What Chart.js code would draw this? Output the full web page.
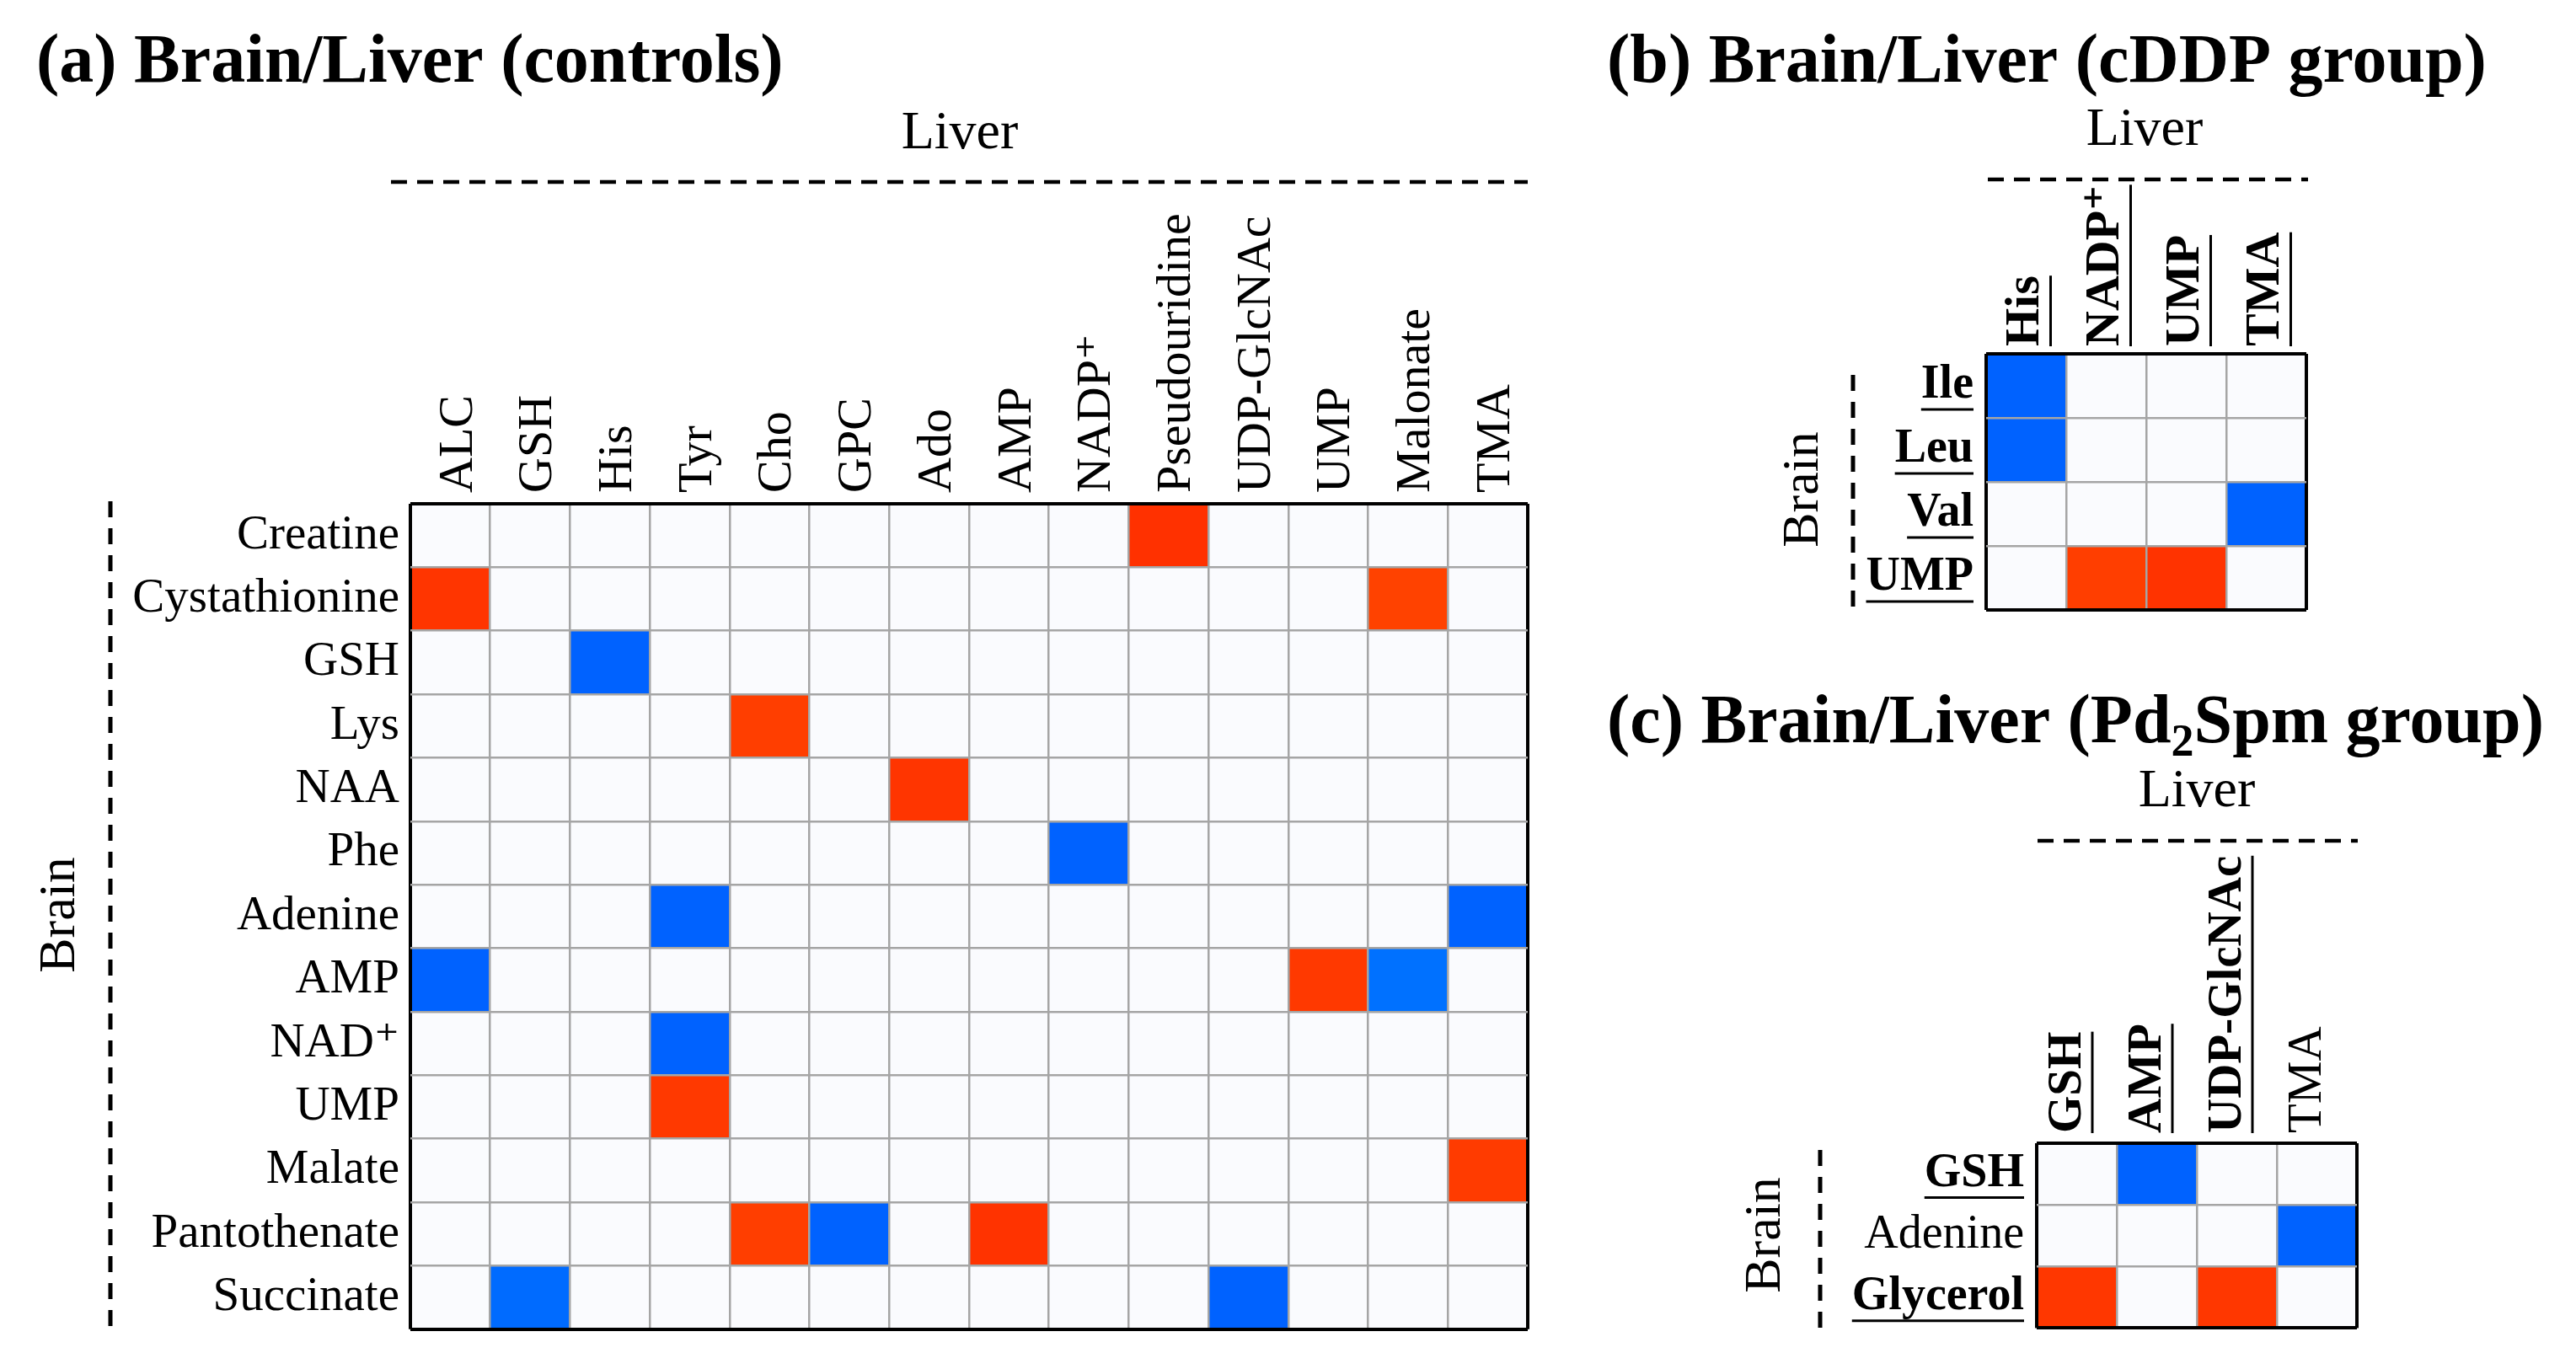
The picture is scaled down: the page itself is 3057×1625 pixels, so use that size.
<!DOCTYPE html>
<html>
<head>
<meta charset="utf-8">
<script src="https://cdn.jsdelivr.net/npm/chart.js@4.4.1/dist/chart.umd.min.js"></script>
<style>
  html, body { margin: 0; padding: 0; background: #fff; }
  #wrap { position: relative; width: 3057px; height: 1625px; overflow: hidden; }
  canvas { position: absolute; left: 0; top: 0; }
</style>
</head>
<body>
<div id="wrap">
  <canvas id="chartA" width="3057" height="1625"></canvas>
  <canvas id="chartB" width="3057" height="1625"></canvas>
  <canvas id="chartC" width="3057" height="1625"></canvas>
</div>
<script>
// (a) controls
const aRows = ['Creatine', 'Cystathionine', 'GSH', 'Lys', 'NAA', 'Phe', 'Adenine', 'AMP', 'NAD\u207A', 'UMP', 'Malate', 'Pantothenate', 'Succinate'];
const aCols = ['ALC', 'GSH', 'His', 'Tyr', 'Cho', 'GPC', 'Ado', 'AMP', 'NADP\u207A', 'Pseudouridine', 'UDP-GlcNAc', 'UMP', 'Malonate', 'TMA'];
const aValues = [
  // ALC  GSH   His   Tyr   Cho   GPC   Ado   AMP  NADP+  Pseu  UDP   UMP   Malo  TMA
  [0,     0,    0,    0,    0,    0,    0,    0,    0,    0.96, 0,    0,    0,    0],     // Creatine
  [0.94,  0,    0,    0,    0,    0,    0,    0,    0,    0,    0,    0,    0.88, 0],     // Cystathionine
  [0,     0,   -0.95, 0,    0,    0,    0,    0,    0,    0,    0,    0,    0,    0],     // GSH
  [0,     0,    0,    0,    0.9,  0,    0,    0,    0,    0,    0,    0,    0,    0],     // Lys
  [0,     0,    0,    0,    0,    0,    0.94, 0,    0,    0,    0,    0,    0,    0],     // NAA
  [0,     0,    0,    0,    0,    0,    0,    0,   -0.95, 0,    0,    0,    0,    0],     // Phe
  [0,     0,    0,   -0.95, 0,    0,    0,    0,    0,    0,    0,    0,    0,   -0.95],  // Adenine
  [-0.95, 0,    0,    0,    0,    0,    0,    0,    0,    0,    0,    0.92,-0.86, 0],     // AMP
  [0,     0,    0,   -0.95, 0,    0,    0,    0,    0,    0,    0,    0,    0,    0],     // NAD+
  [0,     0,    0,    0.92, 0,    0,    0,    0,    0,    0,    0,    0,    0,    0],     // UMP
  [0,     0,    0,    0,    0,    0,    0,    0,    0,    0,    0,    0,    0,    0.91],  // Malate
  [0,     0,    0,    0,    0.9, -0.95, 0,    0.95, 0,    0,    0,    0,    0,    0],     // Pantothenate
  [0,    -0.9,  0,    0,    0,    0,    0,    0,    0,    0,   -0.95, 0,    0,    0]      // Succinate
];

// (b) cDDP group
const bRows = ['Ile', 'Leu', 'Val', 'UMP'];
const bCols = ['His', 'NADP\u207A', 'UMP', 'TMA'];
const bValues = [
  [-0.95, 0,    0,    0],
  [-0.95, 0,    0,    0],
  [0,     0,    0,   -0.95],
  [0,     0.9,  0.95, 0]
];
const bBoldRows = ['Ile', 'Leu', 'Val', 'UMP'];
const bBoldCols = ['His', 'NADP\u207A', 'UMP', 'TMA'];

// (c) Pd2Spm group
const cRows = ['GSH', 'Adenine', 'Glycerol'];
const cCols = ['GSH', 'AMP', 'UDP-GlcNAc', 'TMA'];
const cValues = [
  [0,    -0.95, 0,    0],
  [0,     0,    0,   -0.95],
  [0.93,  0,    0.93, 0]
];
const cBoldRows = ['GSH', 'Glycerol'];
const cBoldCols = ['GSH', 'AMP', 'UDP-GlcNAc'];

const FONT = '"Liberation Serif", "DejaVu Serif", serif';
const GRID = 'rgb(165,165,165)';

function cellColor(v) {
  if (v === 0) return 'rgb(250,251,254)';
  if (v > 0) return 'rgb(255,' + Math.round(255 - 215 * v) + ',0)';
  return 'rgb(0,' + Math.round(255 - 165 * -v) + ',255)';
}

function drawDashed(ctx, x0, y0, x1, y1, width, dash) {
  ctx.save();
  ctx.strokeStyle = '#000';
  ctx.lineWidth = width;
  ctx.setLineDash(dash);
  ctx.beginPath();
  ctx.moveTo(x0, y0);
  ctx.lineTo(x1, y1);
  ctx.stroke();
  ctx.restore();
}

// titles, group labels, dashed brackets and underlines
function makeDecor(d) {
  return {
    id: 'decor',
    afterDraw(chart) {
      const ctx = chart.ctx;
      ctx.save();
      ctx.fillStyle = '#000';
      ctx.textAlign = 'left';
      ctx.textBaseline = 'alphabetic';
      let x = d.titleX;
      d.title.forEach(p => {
        ctx.font = p.sub ? 'bold 54px ' + FONT : 'bold 82px ' + FONT;
        ctx.fillText(p.text, x, d.titleY + (p.sub ? 16 : 0));
        x += ctx.measureText(p.text).width;
      });

      ctx.font = '64px ' + FONT;
      ctx.textAlign = 'center';
      ctx.fillText('Liver', d.liver[0], d.liver[1]);

      ctx.save();
      ctx.translate(d.brain[0], d.brain[1]);
      ctx.rotate(-Math.PI / 2);
      ctx.font = '62px ' + FONT;
      ctx.textBaseline = 'middle';
      ctx.fillText('Brain', 0, 0);
      ctx.restore();
      ctx.restore();

      drawDashed(ctx, d.hLine[0], d.hLine[2], d.hLine[1], d.hLine[2], 4.5, [19, 12]);
      drawDashed(ctx, d.vLine[0], d.vLine[1], d.vLine[0], d.vLine[2], 5, [19, 13]);

      // underline the marked tick labels
      [['x', d.ulCols || []], ['y', d.ulRows || []]].forEach(([id, marks]) => {
        if (!marks.length) return;
        const scale = chart.scales[id];
        scale.getLabelItems().forEach(item => {
          if (!marks.includes(item.label)) return;
          const o = item.options;
          ctx.save();
          ctx.translate(o.translation[0], o.translation[1]);
          ctx.rotate(o.rotation);
          ctx.font = item.font.string;
          const w = ctx.measureText(item.label).width;
          const x0 = o.textAlign === 'right' ? -w : (o.textAlign === 'center' ? -w / 2 : 0);
          const yy = item.textOffset + item.font.size * 0.5;
          ctx.strokeStyle = '#000';
          ctx.lineWidth = 3;
          ctx.beginPath();
          ctx.moveTo(x0, yy);
          ctx.lineTo(x0 + w, yy);
          ctx.stroke();
          ctx.restore();
        });
      });
    }
  };
}

function heatmap(id, rows, cols, values, opt) {
  const datasets = rows.map((r, i) => ({
    label: r,
    data: cols.map(() => [i, i + 1]),
    backgroundColor: values[i].map(cellColor),
    borderWidth: 0,
    barPercentage: 1,
    categoryPercentage: 1,
    grouped: false
  }));
  const boldRows = opt.boldRows || [];
  const boldCols = opt.boldCols || [];
  const nRows = rows.length;

  return new Chart(document.getElementById(id), {
    type: 'bar',
    data: { labels: cols, datasets: datasets },
    options: {
      responsive: false,
      devicePixelRatio: 1,
      animation: false,
      events: [],
      layout: { padding: opt.padding },
      plugins: { legend: { display: false }, tooltip: { enabled: false } },
      scales: {
        x: {
          type: 'category',
          position: 'top',
          offset: true,
          border: { display: false },
          grid: {
            z: 1,
            offset: true,
            drawTicks: false,
            color: c => (c.type !== 'tick' || c.index === 0) ? '#000' : GRID,
            lineWidth: c => (c.type !== 'tick' || c.index === 0) ? 4 : 2.5
          },
          ticks: {
            autoSkip: false,
            minRotation: 90,
            maxRotation: 90,
            padding: opt.colPad,
            labelOffset: opt.colSize * 1.2 + opt.colShift,
            color: '#000',
            font: c => ({
              family: FONT,
              size: opt.colSize,
              weight: boldCols.includes(cols[c.index]) ? 'bold' : 'normal'
            })
          },
          afterFit: s => { s.height = opt.xHeight; }
        },
        y: {
          type: 'linear',
          min: 0,
          max: nRows,
          reverse: true,
          border: { display: false },
          grid: {
            z: 1,
            drawTicks: false,
            color: c => {
              const v = c.tick ? c.tick.value : 0;
              if (v === 0 || v === nRows) return '#000';
              return v % 1 === 0 ? GRID : 'rgba(0,0,0,0)';
            },
            lineWidth: c => {
              const v = c.tick ? c.tick.value : 0;
              return (v === 0 || v === nRows) ? 4 : 2.5;
            }
          },
          ticks: {
            stepSize: 0.5,
            autoSkip: false,
            padding: opt.rowPad,
            color: '#000',
            callback: v => (v % 1 === 0.5 ? rows[Math.floor(v)] : ''),
            font: c => {
              const v = c.tick ? c.tick.value : 0;
              const name = rows[Math.floor(v)];
              return {
                family: FONT,
                size: opt.rowSize,
                weight: boldRows.includes(name) ? 'bold' : 'normal'
              };
            }
          },
          afterFit: s => { s.width = opt.yWidth; }
        }
      }
    },
    plugins: [makeDecor(opt.decor)]
  });
}

heatmap('chartA', aRows, aCols, aValues, {
  padding: { left: 0, top: 198, right: 1244, bottom: 40 },
  yWidth: 487, xHeight: 400,
  rowSize: 57, colSize: 58, rowPad: 13, colPad: 13, colShift: 10,
  decor: {
    title: [{ text: '(a) Brain/Liver (controls)' }], titleX: 43, titleY: 97,
    liver: [1139, 176], brain: [72, 1086],
    hLine: [464, 1813, 216], vLine: [131, 595, 1585]
  }
});

heatmap('chartB', bRows, bCols, bValues, {
  padding: { left: 1957, top: 200, right: 320, bottom: 901 },
  yWidth: 400, xHeight: 220,
  rowSize: 56, colSize: 58, rowPad: 15, colPad: 9, colShift: 0,
  boldRows: bBoldRows, boldCols: bBoldCols,
  decor: {
    title: [{ text: '(b) Brain/Liver (cDDP group)' }], titleX: 1907, titleY: 97,
    liver: [2545, 172], brain: [2141, 581],
    hLine: [2359, 2739, 213], vLine: [2199, 445, 731],
    ulRows: bBoldRows, ulCols: bBoldCols
  }
});

heatmap('chartC', cRows, cCols, cValues, {
  padding: { left: 2017, top: 957, right: 260, bottom: 40 },
  yWidth: 400, xHeight: 400,
  rowSize: 56, colSize: 57, rowPad: 15, colPad: 12, colShift: -10,
  boldRows: cBoldRows, boldCols: cBoldCols,
  decor: {
    title: [{ text: '(c) Brain/Liver (Pd' }, { text: '2', sub: true }, { text: 'Spm group)' }],
    titleX: 1907, titleY: 881,
    liver: [2607, 957], brain: [2096, 1466],
    hLine: [2418, 2798, 998], vLine: [2160, 1365, 1588],
    ulRows: cBoldRows, ulCols: cBoldCols
  }
});
</script>
</body>
</html>
